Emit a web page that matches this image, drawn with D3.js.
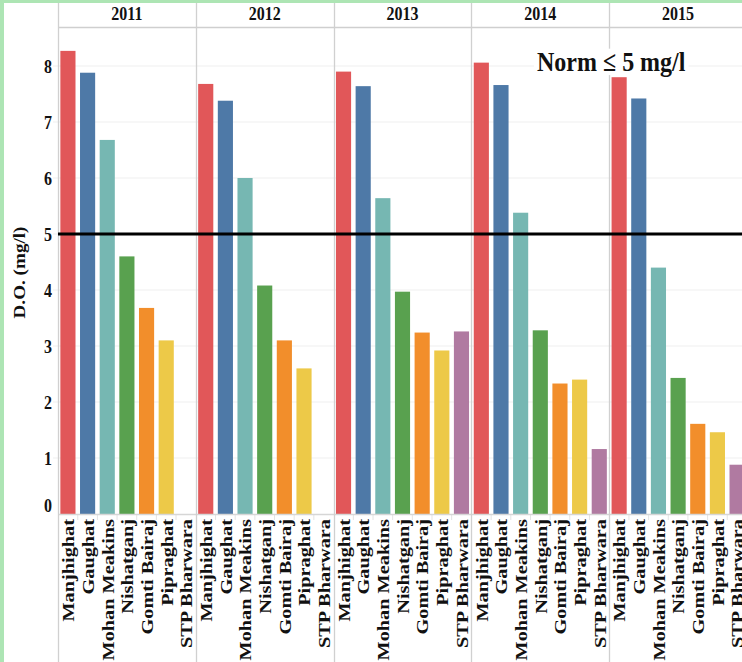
<!DOCTYPE html>
<html>
<head>
<meta charset="utf-8">
<script src="https://cdn.jsdelivr.net/npm/d3@7"></script>
<style>
  html, body { margin: 0; padding: 0; background: #fff; }
  svg { display: block; }
  text { font-family: "Liberation Serif", "Times New Roman", serif; font-weight: bold; fill: #111; }
</style>
</head>
<body>
<svg id="chart" width="742" height="662"></svg>
<script>
const years = ["2011", "2012", "2013", "2014", "2015"];
const sites = ["Manjhighat", "Gaughat", "Mohan Meakins", "Nishatganj", "Gomti Bairaj", "Pipraghat", "STP Bharwara"];
const siteColors = ["#e15759", "#4e79a7", "#76b7b2", "#59a14f", "#f28e2b", "#edc948", "#b07aa1"];
const do2011 = [8.27, 7.88, 6.68, 4.6, 3.68, 3.1, null];
const do2012 = [7.68, 7.38, 6.0, 4.08, 3.1, 2.6, null];
const do2013 = [7.9, 7.64, 5.64, 3.97, 3.24, 2.92, 3.26];
const do2014 = [8.06, 7.66, 5.38, 3.28, 2.33, 2.4, 1.16];
const do2015 = [7.8, 7.42, 4.4, 2.43, 1.61, 1.46, 0.88];
const yTicks = [0, 1, 2, 3, 4, 5, 6, 7, 8];
const normValue = 5;
const normLabel = "Norm \u2264 5 mg/l";
const yTitle = "D.O. (mg/l)";

const seriesByYear = [do2011, do2012, do2013, do2014, do2015];

const svg = d3.select("#chart");
const W = 742, H = 662;
const mLeft = 58, mTop = 27, mBottom = 514, headerTop = 3;
const panelW = 137.8;
const ST = 1.16; // vertical stretch of the lettering

// green frame
svg.append("rect").attr("x", 0).attr("y", 0).attr("width", W).attr("height", 3).attr("fill", "#ade5b4");
svg.append("rect").attr("x", 0).attr("y", 0).attr("width", 4).attr("height", H).attr("fill", "#ade5b4");

const fx = d3.scaleBand().domain(years).range([mLeft, mLeft + panelW * years.length]).padding(0);
const x = d3.scaleBand().domain(sites).range([0, panelW]).paddingInner(0.23).paddingOuter(0.12);
const y = d3.scaleLinear().domain([0, 8]).range([mBottom, mBottom - 8 * 56]);
const color = d3.scaleOrdinal().domain(sites).range(siteColors);

// gridlines
svg.append("g").selectAll("line").data(yTicks.filter(t => t > 0)).join("line")
  .attr("x1", mLeft - 5).attr("x2", W)
  .attr("y1", d => y(d)).attr("y2", d => y(d))
  .attr("stroke", "#efefef").attr("stroke-width", 1.2);

// y axis labels
const yAxis = d3.axisLeft(y).tickValues(yTicks).tickSize(0).tickPadding(6).tickFormat(d3.format("d"));
const gy = svg.append("g").attr("transform", `translate(${mLeft},0)`).call(yAxis);
gy.select(".domain").remove();
gy.selectAll("text")
  .attr("font-size", 16).attr("font-family", "Liberation Serif, serif").attr("font-weight", "bold").attr("fill", "#111")
  .attr("y", d => d === 0 ? -9 / ST : 0)
  .attr("transform", `scale(1,${ST})`)
  .attr("dy", "0.34em");

// y title
svg.append("text")
  .attr("transform", `translate(25,${(mTop + mBottom) / 2 + 2}) rotate(-90) scale(${ST},1)`)
  .attr("text-anchor", "middle")
  .attr("font-size", 16.5)
  .text(yTitle);

// panels
const panels = svg.append("g").selectAll("g").data(years).join("g")
  .attr("transform", d => `translate(${fx(d)},0)`);

panels.each(function(yr, i) {
  const g = d3.select(this);
  const vals = seriesByYear[i];
  const rows = sites.map((s, k) => ({ site: s, v: vals[k] })).filter(r => r.v != null);
  g.selectAll("rect.bar").data(rows).join("rect")
    .attr("class", "bar")
    .attr("x", d => x(d.site))
    .attr("width", x.bandwidth())
    .attr("y", d => y(d.v))
    .attr("height", d => y(0) - y(d.v))
    .attr("fill", d => color(d.site));

  // header
  g.append("text")
    .attr("transform", `translate(${panelW / 2},20) scale(1,${ST})`)
    .attr("text-anchor", "middle")
    .attr("font-size", 16)
    .text(yr);

  // x axis
  const xAxis = d3.axisBottom(x).tickSize(0).tickPadding(0);
  const gx = g.append("g").attr("transform", `translate(0,${mBottom})`).call(xAxis);
  gx.select(".domain").remove();
  gx.selectAll("text")
    .attr("font-size", 17.5)
    .attr("font-family", "Liberation Serif, serif")
    .attr("font-weight", "bold")
    .attr("fill", "#111")
    .attr("text-anchor", "end")
    .attr("transform", `rotate(-90) scale(${ST},1)`)
    .attr("x", -5 / ST).attr("y", 0).attr("dy", "0.36em");

  // small dividers between categories
  g.append("g").selectAll("line").data(sites.slice(1)).join("line")
    .attr("x1", d => x(d) - x.step() * x.paddingInner() / 2)
    .attr("x2", d => x(d) - x.step() * x.paddingInner() / 2)
    .attr("y1", mBottom).attr("y2", mBottom + 6)
    .attr("stroke", "#e4e4e4");
});

// axis base line
svg.append("line").attr("x1", mLeft).attr("x2", W).attr("y1", mBottom + 0.5).attr("y2", mBottom + 0.5)
  .attr("stroke", "#d6d6d6").attr("stroke-width", 1.5);

// header bottom line
svg.append("line").attr("x1", mLeft).attr("x2", W).attr("y1", mTop + 0.5).attr("y2", mTop + 0.5)
  .attr("stroke", "#cfcfcf").attr("stroke-width", 1.5);

// panel separators
svg.append("g").selectAll("line").data(years).join("line")
  .attr("x1", d => Math.round(fx(d)) + 0.5).attr("x2", d => Math.round(fx(d)) + 0.5)
  .attr("y1", headerTop).attr("y2", H)
  .attr("stroke", "#d0d0d0").attr("stroke-width", 1.3);

// norm reference line
svg.append("line")
  .attr("x1", mLeft).attr("x2", W)
  .attr("y1", y(normValue)).attr("y2", y(normValue))
  .attr("stroke", "#000").attr("stroke-width", 3);

// norm label with white background
const normG = svg.append("g").attr("transform", `translate(537,71) scale(1,${ST})`);
const normText = normG.append("text")
  .attr("x", 0).attr("y", 0)
  .attr("font-size", 24)
  .text(normLabel);
const bb = normText.node().getBBox();
normG.insert("rect", "text")
  .attr("x", bb.x - 3).attr("y", bb.y + 2).attr("width", bb.width + 6).attr("height", bb.height - 4)
  .attr("fill", "#fff");
</script>
</body>
</html>
